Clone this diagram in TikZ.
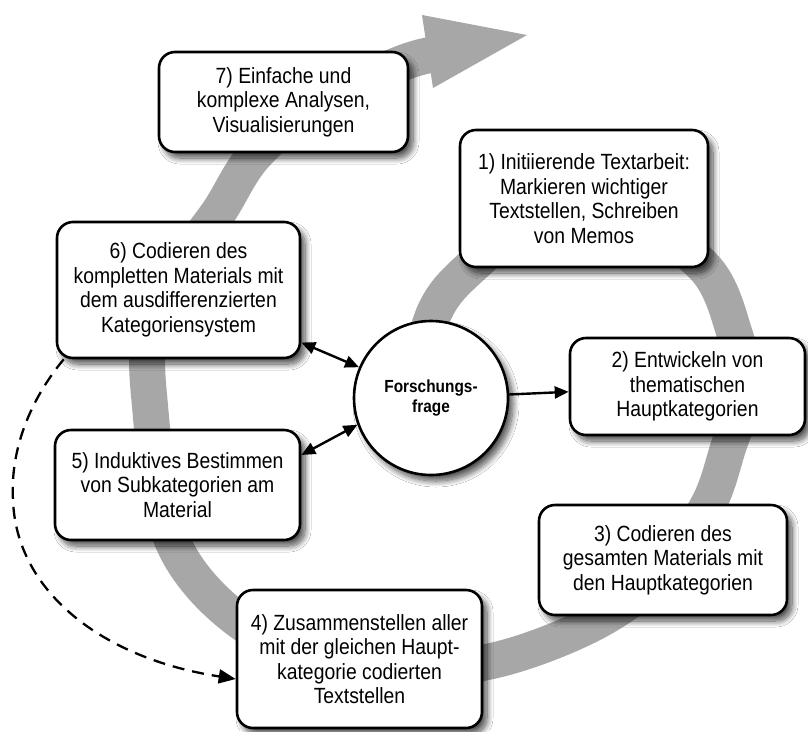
\documentclass[tikz,border=0pt]{standalone}
\usepackage{fontspec}
\setmainfont{Liberation Sans}[FakeStretch=0.88]
\usetikzlibrary{arrows.meta,shadows.blur,calc}
\definecolor{bandgrey}{RGB}{167,167,167}
\begin{document}
\begin{tikzpicture}[x=1pt,y=-1pt,
  myshadow/.style={blur shadow={shadow xshift=5pt, shadow yshift=-6pt, shadow blur steps=12, shadow blur radius=6pt, shadow opacity=70}},
  box/.style={draw=black, line width=2.6pt, rounded corners=16pt, fill=white, align=center, inner sep=2pt,
     font=\fontsize{22}{24.5}\selectfont, myshadow},
  band/.style={line width=36pt, draw=bandgrey},
  arr/.style={line width=2.4pt, -{Triangle[length=14pt,width=12pt]}},
  dbl/.style={line width=2.4pt, {Triangle[length=14pt,width=12pt]}-{Triangle[length=14pt,width=12pt]}},
  dasharr/.style={line width=2.3pt, dash pattern=on 12pt off 8pt, -{Triangle[length=17pt,width=14pt]}}
]
\fill[white] (0,0) rectangle (808,731);
\useasboundingbox (0,0) rectangle (808,731);

% grey spiral band
\draw[band] plot[smooth, tension=0.55] coordinates {
  (415,380) (435,311) (468,270) (540,215) (620,210) (705,268) (735,335) (745,390)
  (728,448) (708,505) (660,575) (590,625) (487,662) (360,672) (245,625) (172,540)
  (149,395) (152,330) (185,260) (220,210) (255,155) (320,100) (400,64) (430,55)};
\fill[bandgrey] (422,15) -- (527,35) -- (433,88) -- cycle;

% nodes
\node[box, minimum width=249pt, minimum height=100pt] (b7) at (283.5,102)
  {7) Einfache und\\komplexe Analysen,\\Visualisierungen};
\node[box, minimum width=248pt, minimum height=137pt] (b1) at (584,198.5)
  {1) Initiierende Textarbeit:\\Markieren wichtiger\\Textstellen, Schreiben\\von Memos};
\node[box, minimum width=243pt, minimum height=136pt] (b6) at (178.5,290)
  {6) Codieren des\\kompletten Materials mit\\dem ausdifferenzierten\\Kategoriensystem};
\node[box, minimum width=245pt, minimum height=110pt] (b5) at (177.5,485)
  {5) Induktives Bestimmen\\von Subkategorien am\\Material};
\node[box, minimum width=235pt, minimum height=97pt] (b2) at (687.5,386.5)
  {2) Entwickeln von\\thematischen\\Hauptkategorien};
\node[box, minimum width=248pt, minimum height=110pt] (b3) at (663,560)
  {3) Codieren des\\gesamten Materials mit\\den Hauptkategorien};
\node[box, minimum width=245pt, minimum height=138pt] (b4) at (359.5,659)
  {4) Zusammenstellen aller\\mit der gleichen Haupt-\\kategorie codierten\\Textstellen};
\node[circle, draw=black, line width=2.6pt, fill=white, minimum size=154pt, inner sep=0pt,
  align=center, font=\bfseries\fontsize{17.5}{20}\selectfont, myshadow]
  (c) at (431,398) {Forschungs-\\frage};

% connectors
\draw[arr] (c) -- (b2);
\draw[dbl] (b6) -- (c);
\draw[dbl] ([yshift=30pt]b5.east) -- (c.200);
\draw[dasharr] ([xshift=8pt]b6.south west) .. controls (30,400) and (10,450) .. (13,500)
  .. controls (16,590) and (100,658) .. ([yshift=-20pt]b4.west);
\end{tikzpicture}
\end{document}
